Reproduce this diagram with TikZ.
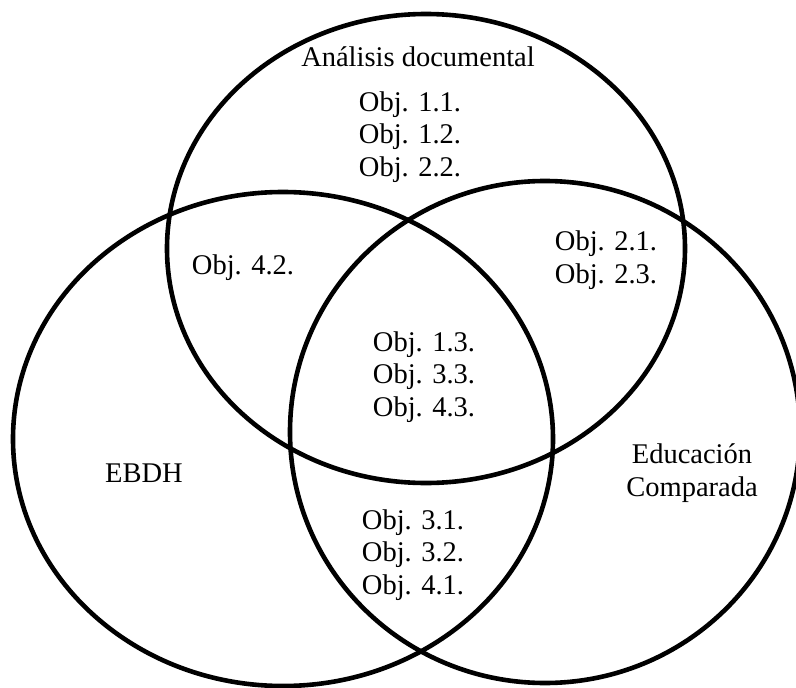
\documentclass[tikz,border=0pt]{standalone}
\usepackage{fontspec}
\setmainfont{Liberation Serif}
\begin{document}
\begin{tikzpicture}[x=1pt,y=-1pt,
  ring/.style={draw=black,line width=4.6pt},
  lbl/.style={align=center,inner sep=0pt,font=\fontsize{28.5}{32.5}\selectfont}]
\useasboundingbox (0,0) rectangle (796,688);
% the three sets
\coordinate (ctop) at (426,248.5);
\coordinate (cleft) at (283,439);
\coordinate (cright) at (545,432);
\draw[ring] (ctop) ellipse [x radius=259pt, y radius=234.5pt];
\draw[ring] (cleft) ellipse [x radius=270pt, y radius=247pt];
\draw[ring] (cright) ellipse [x radius=255pt, y radius=251pt];
% set titles
\node[lbl] (tdoc) at (418,57) {Análisis documental};
\node[lbl] (tebdh) at (144,473) {EBDH};
\node[lbl] (tcomp) at (692,473) {Educación\\Comparada};
% objectives per region
\node[lbl] (otop) at (410,137) {Obj. 1.1.\\Obj. 1.2.\\Obj. 2.2.};
\node[lbl] (otl) at (243,268) {Obj. 4.2.};
\node[lbl] (otr) at (606,260) {Obj. 2.1.\\Obj. 2.3.};
\node[lbl] (omid) at (424,377) {Obj. 1.3.\\Obj. 3.3.\\Obj. 4.3.};
\node[lbl] (obot) at (413,555) {Obj. 3.1.\\Obj. 3.2.\\Obj. 4.1.};
\end{tikzpicture}
\end{document}
